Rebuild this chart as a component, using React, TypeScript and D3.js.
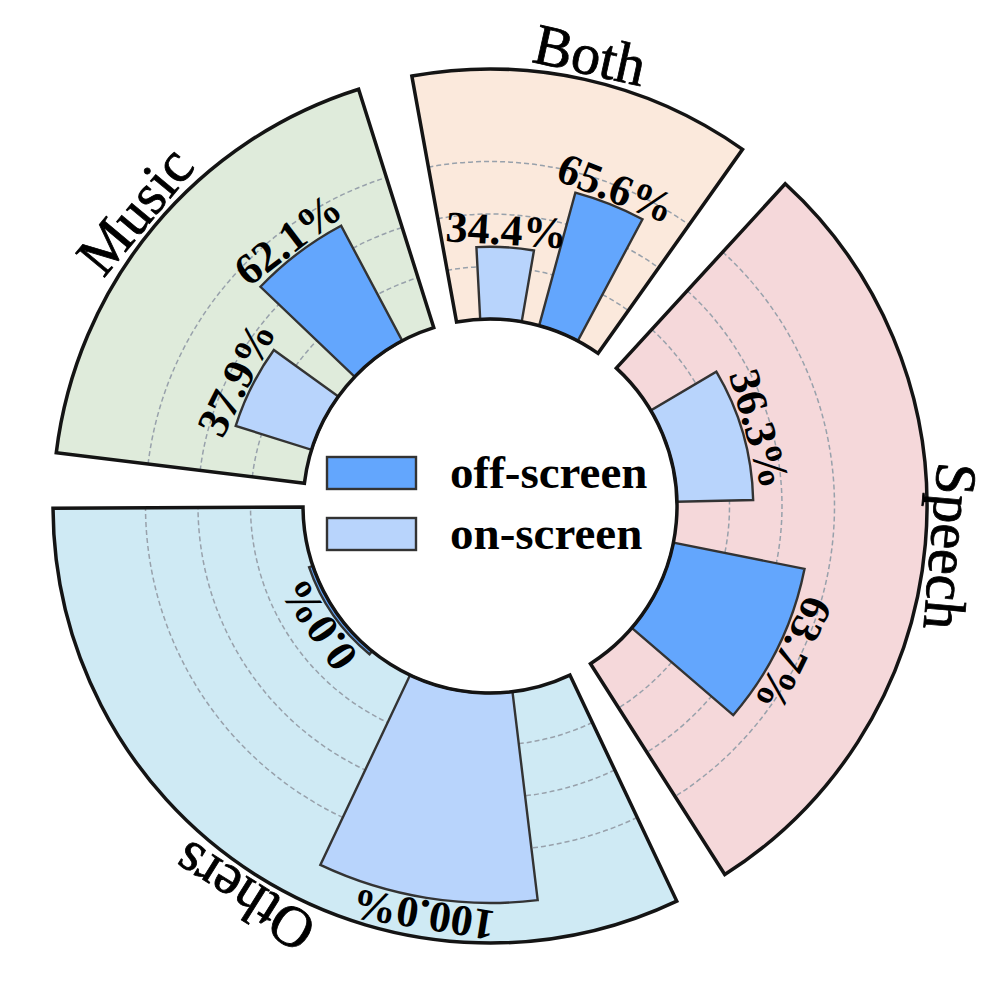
import { useRef, useEffect } from "react";
import * as d3 from "d3";

// sectors, clockwise from the left
const categories = ["Music", "Both", "Speech", "Others"];
const series = ["on-screen", "off-screen"];
const onScreen = [37.9, 34.4, 36.3, 100.0];
const offScreen = [62.1, 65.6, 63.7, 0.0];
// angular width of every sector (degrees)
const sectorSpan = [65.5, 45.6, 105, 115];
const gridTicks = [25, 50, 75];
const legendOrder = ["off-screen", "on-screen"];

const W = 997;
const H = 997;
const cx = 490;
const cy = 506;
const innerR = 187;
const outerR = 437;
const barMaxR = 397;
const gapDeg = 7.2;
const startDeg = -83;

const sectorFill = ["#dfebdb", "#fbe9dc", "#f5d8da", "#cfeaf4"];
const seriesFill: Record<string, string> = {
  "on-screen": "#b8d4fc",
  "off-screen": "#63a6fd",
};
const FONT = "'Liberation Serif', 'Times New Roman', serif";

const rad = (d: number) => (d * Math.PI) / 180;
const deg = (r: number) => (r * 180) / Math.PI;

export default function App() {
  const ref = useRef<SVGSVGElement>(null);

  useEffect(() => {
    const svg = d3.select(ref.current);
    svg.selectAll("*").remove();

    const g = svg.append("g").attr("transform", `translate(${cx},${cy})`);
    const r = d3.scaleLinear().domain([0, 100]).range([innerR, barMaxR]);

    // sector angles (d3 convention: 0 at top, clockwise)
    let a = startDeg;
    const sectors = categories.map((name, i) => {
      const s = a;
      a += sectorSpan[i];
      const e = a;
      a += gapDeg;
      return { name, i, start: rad(s), end: rad(e) };
    });

    const arc = d3.arc<any>();

    // background wedges
    g.selectAll("path.sector")
      .data(sectors)
      .join("path")
      .attr("class", "sector")
      .attr("d", (d) =>
        arc({ innerRadius: innerR, outerRadius: outerR, startAngle: d.start, endAngle: d.end })
      )
      .attr("fill", (d) => sectorFill[d.i]);

    // dashed grid arcs inside each wedge
    sectors.forEach((s) => {
      gridTicks.forEach((t) => {
        const p = d3.path();
        p.arc(0, 0, r(t), s.start - Math.PI / 2, s.end - Math.PI / 2);
        g.append("path")
          .attr("d", p.toString())
          .attr("fill", "none")
          .attr("stroke", "#98a1ab")
          .attr("stroke-width", 1.5)
          .attr("stroke-dasharray", "5,3");
      });
    });

    // bars
    const bars: { a: number; w: number; v: number; key: string }[] = [];
    sectors.forEach((s) => {
      const pos = d3.scalePoint().domain(series).range([s.start, s.end]).padding(0.75);
      const w = 0.28 * (s.end - s.start);
      const vals = [onScreen[s.i], offScreen[s.i]];
      series.forEach((key, j) => bars.push({ a: pos(key) as number, w, v: vals[j], key }));
    });

    g.selectAll("path.bar")
      .data(bars)
      .join("path")
      .attr("class", "bar")
      .attr("d", (d) =>
        arc({
          innerRadius: innerR,
          outerRadius: Math.max(r(d.v), innerR + 4),
          startAngle: d.a - d.w / 2,
          endAngle: d.a + d.w / 2,
        })
      )
      .attr("fill", (d) => seriesFill[d.key])
      .attr("stroke", "#333")
      .attr("stroke-width", 2.4)
      .attr("stroke-linejoin", "miter");

    // wedge outlines on top
    g.selectAll("path.outline")
      .data(sectors)
      .join("path")
      .attr("class", "outline")
      .attr("d", (d) =>
        arc({ innerRadius: innerR, outerRadius: outerR, startAngle: d.start, endAngle: d.end })
      )
      .attr("fill", "none")
      .attr("stroke", "#141414")
      .attr("stroke-width", 3.5)
      .attr("stroke-linejoin", "miter");

    // percent labels
    g.selectAll("text.pct")
      .data(bars)
      .join("text")
      .attr("class", "pct")
      .attr("transform", (d) => {
        const rr = Math.max(r(d.v), innerR + 4) + 17;
        return `translate(${rr * Math.sin(d.a)},${-rr * Math.cos(d.a)}) rotate(${deg(d.a)})`;
      })
      .attr("text-anchor", "middle")
      .attr("dominant-baseline", "central")
      .attr("font-family", FONT)
      .attr("font-weight", "bold")
      .attr("font-size", 44)
      .text((d) => `${d.v.toFixed(1)}%`);

    // category labels
    const labelR = 462;
    g.selectAll("text.cat")
      .data(sectors)
      .join("text")
      .attr("class", "cat")
      .attr("transform", (d) => {
        const m = (d.start + d.end) / 2;
        return `translate(${labelR * Math.sin(m)},${-labelR * Math.cos(m)}) rotate(${deg(m)})`;
      })
      .attr("text-anchor", "middle")
      .attr("dominant-baseline", "central")
      .attr("font-family", FONT)
      .attr("font-size", 58)
      .attr("stroke", "#000")
      .attr("stroke-width", 0.8)
      .text((d) => d.name);

    // legend in the middle
    const leg = svg.append("g");
    legendOrder.forEach((key, i) => {
      const y = 457 + i * 61;
      leg.append("rect")
        .attr("x", 327)
        .attr("y", y)
        .attr("width", 89)
        .attr("height", 32)
        .attr("fill", seriesFill[key])
        .attr("stroke", "#333")
        .attr("stroke-width", 2.4);
      leg.append("text")
        .attr("x", 450)
        .attr("y", y + 31)
        .attr("font-family", FONT)
        .attr("font-weight", "bold")
        .attr("font-size", 47)
        .text(key);
    });
  }, []);

  return (
    <svg
      ref={ref}
      width={W}
      height={H}
      style={{ position: "absolute", left: 0, top: 0, background: "#fff" }}
    />
  );
}
